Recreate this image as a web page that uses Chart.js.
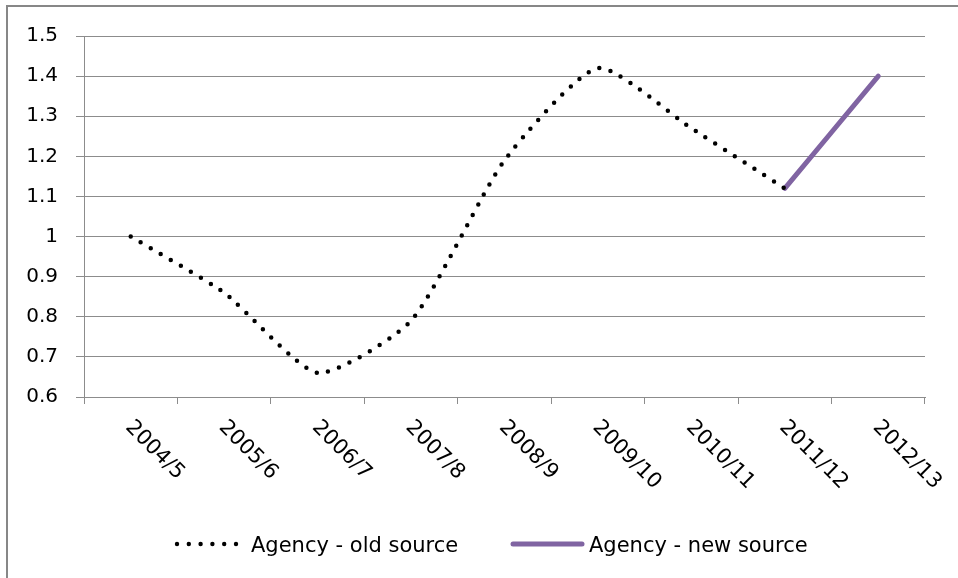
<!DOCTYPE html>
<html>
<head>
<meta charset="utf-8">
<title>Agency index 2004/5 – 2012/13</title>
<script src="https://cdn.jsdelivr.net/npm/chart.js@4/dist/chart.umd.min.js"></script>
<style>
  html, body { margin: 0; padding: 0; background: #ffffff; }
  #wrap { width: 958px; height: 578px; }
</style>
</head>
<body>
<div id="wrap"><canvas id="chart" width="958" height="578"></canvas></div>
<script>
// Financial years on the category axis
const years = ['2004/5', '2005/6', '2006/7', '2007/8', '2008/9', '2009/10', '2010/11', '2011/12', '2012/13'];

// Index values by source
const oldSource = [1.00, 0.86, 0.66, 0.79, 1.19, 1.42, 1.27, 1.12, null];
const newSource = [null, null, null, null, null, null, null, 1.12, 1.40];

// Value axis ticks
const yTickLabels = ['0.6', '0.7', '0.8', '0.9', '1', '1.1', '1.2', '1.3', '1.4', '1.5'];

// Series names
const seriesNames = ['Agency - old source', 'Agency - new source'];

const FONT = '"DejaVu Sans", "Open Sans", sans-serif';
const Y_FONT_SIZE = 20;
const X_FONT_SIZE = 21;
const LEGEND_FONT_SIZE = 21;
const GRID = '#8c8c8c';
const PURPLE = '#8064a2';

// Outer frame, slanted year labels and the legend row
const decorations = {
  id: 'decorations',
  beforeDraw(chart) {
    const ctx = chart.ctx;
    ctx.save();
    ctx.fillStyle = '#ffffff';
    ctx.fillRect(0, 0, chart.width, chart.height);
    ctx.strokeStyle = '#878787';
    ctx.lineWidth = 2;
    ctx.beginPath();
    ctx.moveTo(7, chart.height);
    ctx.lineTo(7, 6);
    ctx.lineTo(chart.width, 6);
    ctx.stroke();
    ctx.restore();
  },
  afterDraw(chart) {
    const ctx = chart.ctx;
    const x = chart.scales.x;
    const top = chart.chartArea.bottom;
    ctx.save();
    ctx.fillStyle = '#000000';
    ctx.font = X_FONT_SIZE + 'px ' + FONT;
    ctx.textAlign = 'left';
    ctx.textBaseline = 'alphabetic';
    years.forEach((label, i) => {
      const px = x.getPixelForValue(i);
      ctx.save();
      ctx.translate(px - 6, top + 31);
      ctx.rotate(Math.PI / 4);
      ctx.fillText(label, 0, 0);
      ctx.restore();
    });

    // legend
    const ly = 544;
    ctx.font = LEGEND_FONT_SIZE + 'px ' + FONT;
    ctx.fillStyle = '#000000';
    for (let k = 0; k < 6; k++) {
      ctx.beginPath();
      ctx.arc(177 + k * 11.8, ly, 2.2, 0, Math.PI * 2);
      ctx.fill();
    }
    ctx.fillText(seriesNames[0], 251, ly + 8);
    ctx.strokeStyle = PURPLE;
    ctx.lineWidth = 5;
    ctx.lineCap = 'round';
    ctx.beginPath();
    ctx.moveTo(513, ly);
    ctx.lineTo(582, ly);
    ctx.stroke();
    ctx.fillText(seriesNames[1], 589, ly + 8);
    ctx.restore();
  }
};

new Chart(document.getElementById('chart'), {
  type: 'line',
  data: {
    labels: years,
    datasets: [
      {
        label: seriesNames[0],
        data: oldSource,
        borderColor: '#000000',
        borderWidth: 4.5,
        borderDash: [0, 11.6],
        borderCapStyle: 'round',
        tension: 0.2,
        pointRadius: 0,
        fill: false,
        spanGaps: false
      },
      {
        label: seriesNames[1],
        data: newSource,
        borderColor: PURPLE,
        borderWidth: 5,
        borderCapStyle: 'round',
        tension: 0.2,
        pointRadius: 0,
        fill: false,
        spanGaps: false
      }
    ]
  },
  options: {
    responsive: false,
    animation: false,
    devicePixelRatio: 1,
    layout: { padding: { top: 36, right: 33, left: 0, bottom: 0 } },
    plugins: {
      legend: { display: false },
      title: { display: false },
      tooltip: { enabled: false }
    },
    scales: {
      x: {
        type: 'category',
        offset: true,
        grid: {
          display: true,
          offset: true,
          drawOnChartArea: false,
          drawTicks: true,
          tickLength: 7,
          color: GRID,
          lineWidth: 1
        },
        border: { display: true, color: GRID, width: 1 },
        ticks: { display: false },
        afterFit(scale) { scale.height = 181; }
      },
      y: {
        min: 0.6,
        max: 1.5,
        grid: {
          color: GRID,
          lineWidth: 1,
          drawTicks: true,
          tickLength: 8
        },
        border: { display: true, color: GRID, width: 1 },
        ticks: {
          stepSize: 0.1,
          padding: 18,
          color: '#000000',
          font: { family: FONT, size: Y_FONT_SIZE },
          callback(value) {
            const hit = yTickLabels.find(t => Math.abs(parseFloat(t) - value) < 1e-6);
            return hit === undefined ? '' : hit;
          }
        },
        afterFit(scale) { scale.width = 84; }
      }
    }
  },
  plugins: [decorations]
});
</script>
</body>
</html>
